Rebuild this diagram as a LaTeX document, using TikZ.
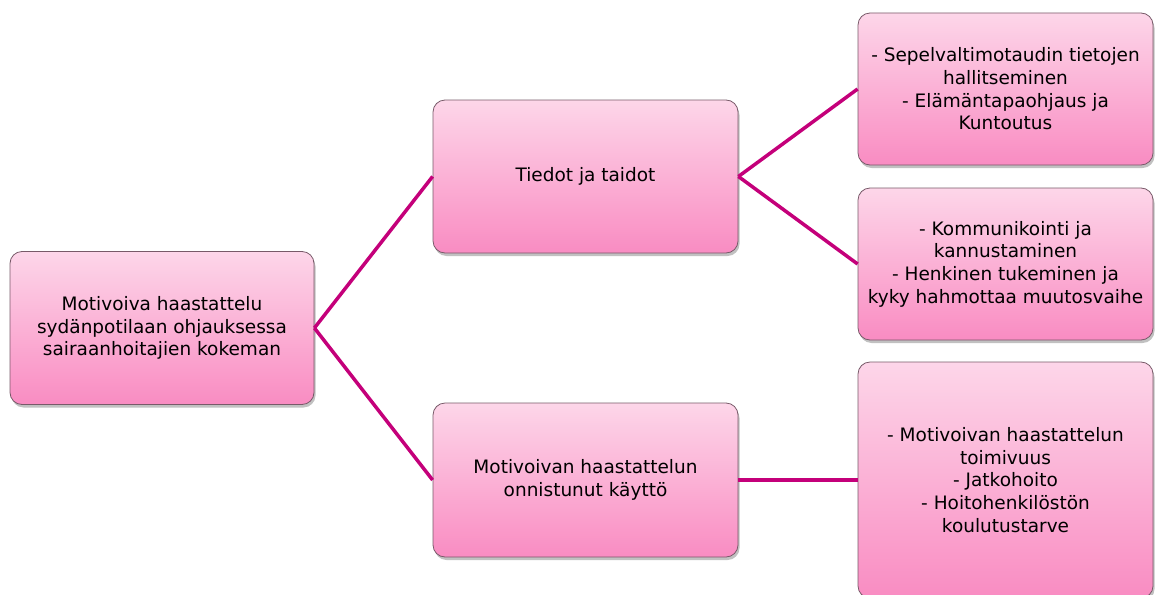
\documentclass[tikz,border=0pt]{standalone}
\usepackage{fontspec}
\setmainfont{DejaVu Sans}
\usetikzlibrary{shadows}
\definecolor{pinktop}{RGB}{253,214,233}
\definecolor{pinkbot}{RGB}{249,140,194}
\definecolor{boxedge}{RGB}{120,90,105}
\definecolor{linkcol}{RGB}{196,0,122}
\tikzset{
  box/.style={rectangle, rounded corners=12pt, draw=boxedge, line width=0.8pt,
    top color=pinktop, bottom color=pinkbot, align=center, inner sep=2pt,
    font=\fontsize{18.5}{22.7}\selectfont, text=black,
    drop shadow={shadow xshift=1.5pt, shadow yshift=-3pt, opacity=0.35, fill=black!70}},
  link/.style={draw=linkcol, line width=3.5pt}
}
\begin{document}
\begin{tikzpicture}[x=1pt,y=-1pt]
\useasboundingbox (0,0) rectangle (1155,594);
\begin{scope}
\clip (0,0) rectangle (1155,594);
\node[box, minimum width=304pt, minimum height=153pt] (root) at (162,328)
  {Motivoiva haastattelu\\sydänpotilaan ohjauksessa\\sairaanhoitajien kokeman};
\node[box, minimum width=305pt, minimum height=153pt] (td) at (585.5,176.5)
  {Tiedot ja taidot};
\node[box, minimum width=305pt, minimum height=154pt] (mh) at (585.5,480)
  {Motivoivan haastattelun\\onnistunut käyttö};
\node[box, minimum width=295pt, minimum height=152pt] (rt) at (1005.5,89)
  {- Sepelvaltimotaudin tietojen\\hallitseminen\\- Elämäntapaohjaus ja\\Kuntoutus};
\node[box, minimum width=295pt, minimum height=152pt] (rm) at (1005.5,264)
  {- Kommunikointi ja\\kannustaminen\\- Henkinen tukeminen ja\\kyky hahmottaa muutosvaihe};
\node[box, minimum width=295pt, minimum height=236pt] (rb) at (1005.5,480)
  {- Motivoivan haastattelun\\toimivuus\\- Jatkohoito\\- Hoitohenkilöstön\\koulutustarve};
\draw[link] (root.east) -- (td.west);
\draw[link] (root.east) -- (mh.west);
\draw[link] (td.east) -- (rt.west);
\draw[link] (td.east) -- (rm.west);
\draw[link] (mh.east) -- (rb.west);
\end{scope}
\end{tikzpicture}
\end{document}
